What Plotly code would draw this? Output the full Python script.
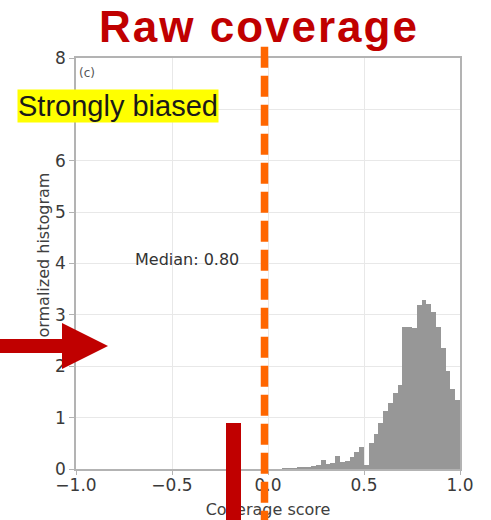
import plotly.graph_objects as go

# ---------------- data ----------------
bin_centers = [0.0875, 0.1125, 0.1375, 0.1625, 0.1875, 0.2125, 0.2375, 0.2625,
               0.2875, 0.3125, 0.3375, 0.3625, 0.3875, 0.4125, 0.4375, 0.4625,
               0.4875, 0.5125, 0.5375, 0.5625, 0.5875, 0.6125, 0.6375, 0.6625,
               0.6875, 0.7125, 0.7375, 0.7625, 0.7875, 0.8125, 0.8375, 0.8625,
               0.8875, 0.9125, 0.9375, 0.9625, 0.9875]
density = [0.01, 0.01, 0.015, 0.02, 0.03, 0.04, 0.05, 0.07,
           0.17, 0.10, 0.12, 0.25, 0.14, 0.15, 0.24, 0.34,
           0.43, 0.08, 0.50, 0.69, 0.89, 1.12, 1.28, 1.47,
           1.63, 2.77, 2.77, 2.75, 3.19, 3.29, 3.22, 3.05,
           2.77, 2.35, 1.90, 1.55, 1.34]
bin_width = 0.025
x_tick_vals = [-1.0, -0.5, 0.0, 0.5, 1.0]
x_tick_text = ["\u22121.0", "\u22120.5", "0.0", "0.5", "1.0"]
y_tick_vals = [0, 1, 2, 3, 4, 5, 6, 7, 8]
y_tick_text = ["0", "1", "2", "3", "4", "5", "6", "7", "8"]
median_value = 0.80
title_text = "Raw coverage"
tag_text = "Strongly biased"
panel_label = "(c)"
x_title = "Coverage score"
y_title = "Normalized histogram"

# ---------------- geometry helpers ----------------
W, H = 491, 520
L, R, T, B = 76, 31, 58, 51
PW = W - L - R
PH = H - T - B


def px(X):
    return (X - L) / PW


def py(Y):
    return (H - B - Y) / PH


TICK_FONT = dict(family="DejaVu Sans", size=17, color="#3a3a3a")
LABEL_FONT = dict(family="DejaVu Sans", size=16, color="#404040")
SPINE = "#b3b3b3"
GRID = "#e8e8e8"

fig = go.Figure()

fig.add_trace(go.Bar(
    x=bin_centers, y=density, width=bin_width,
    marker=dict(color="#979797", line=dict(width=0)),
    hoverinfo="skip", showlegend=False,
))

# invisible carrier traces for the axes that hold the axis titles
fig.add_trace(go.Scatter(
    x=[0.0], y=[4.0], xaxis="x2", yaxis="y", mode="markers",
    marker=dict(opacity=0), hoverinfo="skip", showlegend=False,
))
fig.add_trace(go.Scatter(
    x=[0.0], y=[4.0], xaxis="x", yaxis="y2", mode="markers",
    marker=dict(opacity=0), hoverinfo="skip", showlegend=False,
))

fig.update_layout(
    width=W, height=H,
    margin=dict(l=L, r=R, t=T, b=B, pad=0, autoexpand=False),
    paper_bgcolor="white", plot_bgcolor="white",
    bargap=0,
    xaxis=dict(
        range=[-1, 1], tickvals=x_tick_vals, ticktext=x_tick_text,
        showgrid=True, gridcolor=GRID, gridwidth=1, zeroline=False,
        showline=True, linecolor=SPINE, linewidth=1.5, mirror=True,
        ticks="outside", ticklen=4, tickcolor=SPINE, tickwidth=1,
        tickfont=TICK_FONT, ticklabelstandoff=-4, automargin=False,
    ),
    yaxis=dict(
        range=[0, 8], tickvals=y_tick_vals, ticktext=y_tick_text,
        showgrid=True, gridcolor=GRID, gridwidth=1, zeroline=False,
        showline=True, linecolor=SPINE, linewidth=1.5, mirror=True,
        ticks="outside", ticklen=5, tickcolor=SPINE, tickwidth=1,
        tickfont=TICK_FONT, ticklabelstandoff=0, automargin=False,
    ),
    xaxis2=dict(
        overlaying="x", anchor="y", side="bottom",
        range=[-1, 1], tickvals=[0.0], ticktext=[x_title],
        showgrid=False, showline=False, zeroline=False, ticks="",
        tickfont=LABEL_FONT, ticklabelstandoff=29, automargin=False,
    ),
    yaxis2=dict(
        overlaying="y", anchor="free", position=0, side="left",
        range=[0, 8], tickvals=[4], ticktext=[y_title], tickangle=-90,
        showgrid=False, showline=False, zeroline=False, ticks="",
        tickfont=LABEL_FONT, ticklabelstandoff=24, automargin=False,
    ),
)

fig.add_annotation(
    text="<b><span style='letter-spacing:2px'>" + title_text + "</span></b>",
    x=px(259), y=py(26.5), xref="paper", yref="paper",
    xanchor="center", yanchor="middle", showarrow=False,
    font=dict(family="Liberation Sans, Arial", size=44, color="#C00000"),
)
fig.add_annotation(
    text=tag_text, x=px(118), y=py(106), xref="paper", yref="paper",
    xanchor="center", yanchor="middle", showarrow=False,
    font=dict(family="Liberation Sans, Arial", size=29, color="#1a1a1a"),
    bgcolor="#FFFF00", borderpad=0,
)
fig.add_annotation(
    text=panel_label, x=px(87), y=py(73), xref="paper", yref="paper",
    xanchor="center", yanchor="middle", showarrow=False,
    font=dict(family="DejaVu Sans", size=12, color="#555555"),
)
fig.add_annotation(
    text="Median: %.2f" % median_value, x=-0.705, y=4.08, xref="x", yref="y",
    xanchor="left", yanchor="middle", showarrow=False,
    font=dict(family="DejaVu Sans", size=16, color="#333333"),
)

# overlay marks drawn on top of the chart
arrow_path = "M {a},{s1} L {b},{s1} L {b},{h1} L {c},{m} L {b},{h2} L {b},{s2} L {a},{s2} Z".format(
    a=px(0), b=px(62), c=px(108),
    s1=py(339), s2=py(353), h1=py(323), h2=py(369), m=py(346))
fig.add_shape(type="path", path=arrow_path, xref="paper", yref="paper",
              fillcolor="#C00000", line=dict(width=0), layer="above")
fig.add_shape(type="rect", xref="paper", yref="paper",
              x0=px(226), x1=px(241), y0=py(423), y1=py(530),
              fillcolor="#C00000", line=dict(width=0), layer="above")
fig.add_shape(type="line", xref="paper", yref="paper",
              x0=px(264.5), x1=px(264.5), y0=py(46.7), y1=py(530),
              line=dict(color="#FF6600", width=7.5, dash="21px,8px"), layer="above")

fig.write_html("out.html", config={"displayModeBar": False},
               post_script="document.body.style.margin='0px';")
